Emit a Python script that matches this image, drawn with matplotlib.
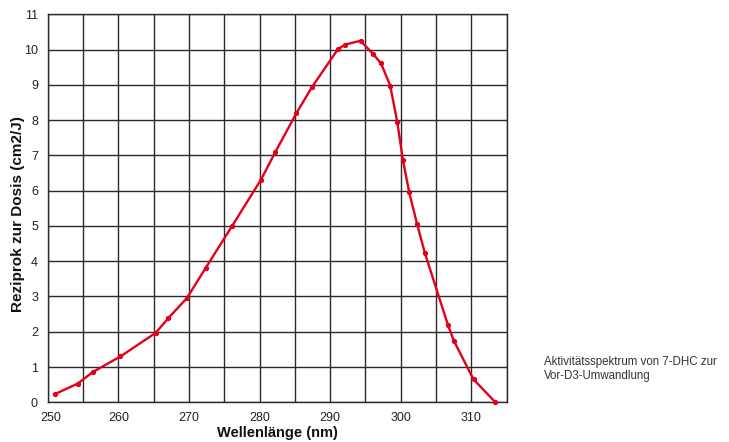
import matplotlib
matplotlib.use("Agg")
import matplotlib.pyplot as plt
import matplotlib.transforms as mtransforms
from matplotlib.ticker import MultipleLocator

wavelength = [251.0, 254.25, 256.4, 260.3, 265.3, 267.1, 269.7, 272.4, 276.15,
              280.2, 282.25, 285.2, 287.4, 291.1, 292.1, 294.3, 296.1, 297.2,
              298.5, 299.5, 300.3, 301.2, 302.3, 303.4, 306.7, 307.5, 310.3, 313.4]
reciprocal_dose = [0.23, 0.53, 0.86, 1.30, 1.97, 2.39, 2.95, 3.82, 5.01,
                   6.31, 7.10, 8.19, 8.93, 10.01, 10.14, 10.25, 9.87, 9.61,
                   8.98, 7.95, 6.87, 5.95, 5.06, 4.24, 2.18, 1.75, 0.65, 0.0]
x_ticks = [250, 260, 270, 280, 290, 300, 310]
y_ticks = list(range(0, 12))

regular = ['Liberation Sans', 'DejaVu Sans']
bold = ['Liberation Sans', 'DejaVu Sans']

fig = plt.figure(figsize=(7.29, 4.42), dpi=100)
ax = fig.add_axes([47.7/729, 1-402.3/442, (506.7-47.7)/729, (402.3-14.3)/442])
ax.set_xlim(250, 315)
ax.set_ylim(0, 11)

ax.xaxis.set_minor_locator(MultipleLocator(5))
ax.set_xticks(x_ticks)
ax.set_yticks(y_ticks)
ax.grid(which='both', axis='x', color='#2a2a2a', linewidth=1.0)
ax.grid(which='major', axis='y', color='#2a2a2a', linewidth=1.0)
ax.tick_params(which='both', length=0)
ax.tick_params(axis='x', pad=7)
ax.tick_params(axis='y', pad=7)
for sp in ax.spines.values():
    sp.set_color('#2a2a2a')
    sp.set_linewidth(1.0)
ax.set_axisbelow(True)

for lbl in ax.get_xticklabels() + ax.get_yticklabels():
    lbl.set_fontfamily(regular)
    lbl.set_fontsize(9)
    lbl.set_color('#222222')

first = ax.get_xticklabels()[0]
first.set_transform(first.get_transform() + mtransforms.ScaledTranslation(3/100, 0, fig.dpi_scale_trans))

ax.plot(wavelength, reciprocal_dose, color='#e3001b', linewidth=1.7,
        marker='o', markersize=2.8, clip_on=False, zorder=3)

ax.set_xlabel('Wellenlänge (nm)', fontfamily=bold, fontweight='bold', fontsize=10.5,
              color='#111111')
ax.xaxis.set_label_coords(0.4996, -0.060)
ax.set_ylabel('Reziprok zur Dosis (cm2/J)', fontfamily=bold, fontweight='bold', fontsize=11,
              color='#111111')
ax.yaxis.set_label_coords(-0.050, 0.4856)

fig.text(544/729, 1-379/442, 'Aktivitätsspektrum von 7-DHC zur\nVor-D3-Umwandlung',
         fontfamily=regular, fontsize=8.3, color='#333333', ha='left', va='baseline',
         linespacing=1.25)

fig.savefig('out.png', dpi=100)
